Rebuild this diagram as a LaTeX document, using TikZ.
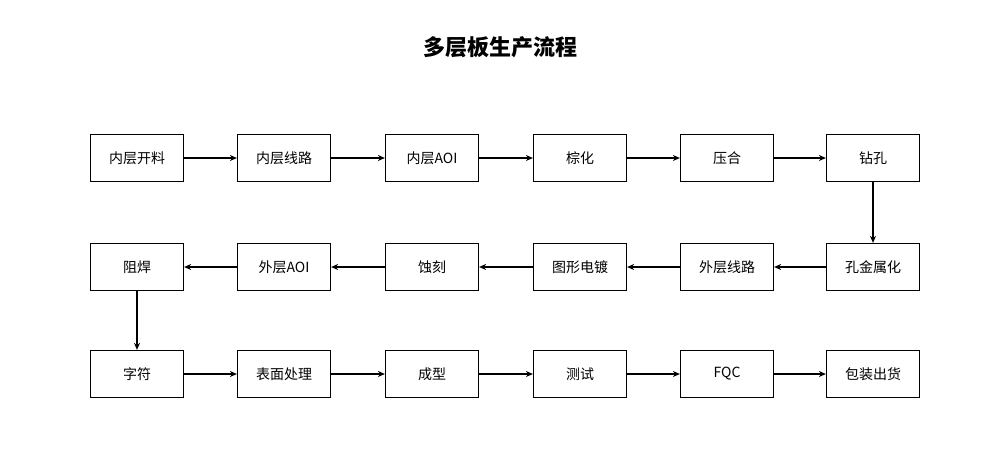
\documentclass[tikz,border=0pt]{standalone}
\usepackage{fontspec}
\newfontfamily\cjk{Noto Sans CJK SC}
\usetikzlibrary{arrows.meta}
\begin{document}
\begin{tikzpicture}[x=1pt,y=-1pt,
box/.style={draw,line width=1.2pt,minimum width=93pt,minimum height=47pt,inner sep=0pt,font=\cjk\fontsize{14}{14}\selectfont},
arr/.style={-{Stealth[length=7pt,width=6pt]},line width=1.2pt}]
\useasboundingbox (0,0) rectangle (1000,448);
\fill[white] (0,0) rectangle (1000,448);
\node[font=\cjk\bfseries\fontsize{22}{22}\selectfont] (t) at (500,47) {多层板生产流程};
\foreach \n/\x in {1/137,2/284,3/432,4/580,5/727,6/873}{
  \coordinate (c\n) at (\x,0);}
\node[box] (a1) at (137,158) {内层开料};
\node[box] (a2) at (284,158) {内层线路};
\node[box] (a3) at (432,158) {内层AOI};
\node[box] (a4) at (580,158) {棕化};
\node[box] (a5) at (727,158) {压合};
\node[box] (a6) at (873,158) {钻孔};
\node[box] (b6) at (873,267) {孔金属化};
\node[box] (b5) at (727,267) {外层线路};
\node[box] (b4) at (580,267) {图形电镀};
\node[box] (b3) at (432,267) {蚀刻};
\node[box] (b2) at (284,267) {外层AOI};
\node[box] (b1) at (137,267) {阻焊};
\node[box] (d1) at (137,374) {字符};
\node[box] (d2) at (284,374) {表面处理};
\node[box] (d3) at (432,374) {成型};
\node[box] (d4) at (580,374) {测试};
\node[box] (d5) at (727,374) {FQC};
\node[box] (d6) at (873,374) {包装出货};
\draw[arr] (a1)--(a2); \draw[arr] (a2)--(a3); \draw[arr] (a3)--(a4);
\draw[arr] (a4)--(a5); \draw[arr] (a5)--(a6); \draw[arr] (a6)--(b6);
\draw[arr] (b6)--(b5); \draw[arr] (b5)--(b4); \draw[arr] (b4)--(b3);
\draw[arr] (b3)--(b2); \draw[arr] (b2)--(b1); \draw[arr] (b1)--(d1);
\draw[arr] (d1)--(d2); \draw[arr] (d2)--(d3); \draw[arr] (d3)--(d4);
\draw[arr] (d4)--(d5); \draw[arr] (d5)--(d6);
\end{tikzpicture}
\end{document}
